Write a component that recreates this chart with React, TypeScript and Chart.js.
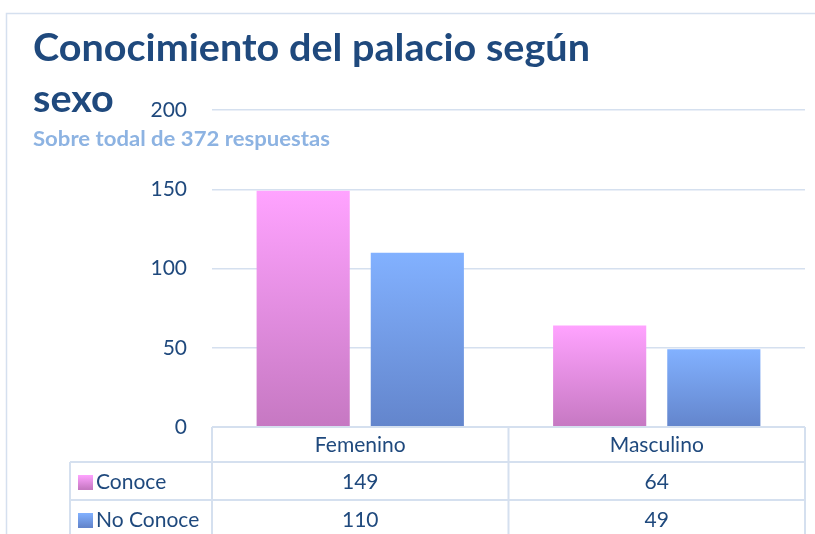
import { useEffect, useRef } from 'react';
import { Chart, registerables } from 'chart.js';

Chart.register(...registerables);

const categories = ['Femenino', 'Masculino'];
const seriesNames = ['Conoce', 'No Conoce'];
const conoce = [149, 64];
const noConoce = [110, 49];
const yMin = 0;
const yMax = 200;
const yStep = 50;
const titleLines = ['Conocimiento del palacio según', 'sexo'];
const subtitle = 'Sobre todal de 372 respuestas';

const TEXT = '#1f497d';
const GRID = '#d5e0ef';
const FONT = 'Lato, "Noto Sans", sans-serif';
const gradStops = [
  ['#ffa3ff', '#c678c2'],
  ['#82b1ff', '#6385cc'],
];

function barGradient(ctx: any, dsIndex: number) {
  const chart = ctx.chart;
  const y = chart.scales?.y;
  if (!y || ctx.raw == null) return gradStops[dsIndex][1];
  const top = y.getPixelForValue(ctx.raw);
  const base = y.getPixelForValue(0);
  if (!isFinite(top) || !isFinite(base) || top === base) return gradStops[dsIndex][1];
  const g = chart.ctx.createLinearGradient(0, top, 0, base);
  g.addColorStop(0, gradStops[dsIndex][0]);
  g.addColorStop(1, gradStops[dsIndex][1]);
  return g;
}

function fitText(ctx: any, text: string, x: number, y: number, width: number) {
  const w = ctx.measureText(text).width;
  ctx.save();
  ctx.translate(x, y);
  ctx.scale(width / w, 1);
  ctx.fillText(text, 0, 0);
  ctx.restore();
}

const overlay = {
  id: 'overlay',
  afterDraw(chart: any) {
    const { ctx, chartArea, scales } = chart;
    const xs = scales.x;
    const ys = scales.y;
    ctx.save();
    // outer frame
    ctx.strokeStyle = GRID;
    ctx.lineWidth = 1.5;
    ctx.strokeRect(6.5, 13.5, 1000, 1000);

    // title
    ctx.fillStyle = TEXT;
    ctx.textAlign = 'left';
    ctx.textBaseline = 'alphabetic';
    ctx.font = `bold 38px ${FONT}`;
    const w0 = ctx.measureText(titleLines[0]).width;
    const sx = 557 / w0;
    ctx.save();
    ctx.translate(33, 0);
    ctx.scale(sx, 1);
    ctx.fillText(titleLines[0], 0, 61);
    ctx.fillText(titleLines[1], 0, 112);
    ctx.restore();

    ctx.fillStyle = '#8db3e2';
    ctx.font = `bold 20px ${FONT}`;
    fitText(ctx, subtitle, 33, 146, 297);

    // data table
    const left = chartArea.left;
    const right = chartArea.right;
    const top = ys.getPixelForValue(0);
    const labelLeft = 70;
    const rowsY = [top, top + 35, top + 73, top + 111];
    const catW = (right - left) / categories.length;

    ctx.strokeStyle = GRID;
    ctx.lineWidth = 2;
    ctx.beginPath();
    ctx.moveTo(left, rowsY[0]);
    ctx.lineTo(right, rowsY[0]);
    for (let r = 1; r < rowsY.length; r++) {
      ctx.moveTo(labelLeft, rowsY[r]);
      ctx.lineTo(right, rowsY[r]);
    }
    ctx.moveTo(labelLeft, rowsY[1]);
    ctx.lineTo(labelLeft, rowsY[3]);
    for (let i = 0; i <= categories.length; i++) {
      const x = left + i * catW;
      ctx.moveTo(x, rowsY[0]);
      ctx.lineTo(x, rowsY[3]);
    }
    ctx.stroke();

    ctx.fillStyle = TEXT;
    ctx.font = `21px ${FONT}`;
    ctx.textAlign = 'center';
    ctx.textBaseline = 'middle';
    categories.forEach((c, i) => {
      const cx = xs.getPixelForValue(i);
      ctx.fillText(c, cx, (rowsY[0] + rowsY[1]) / 2 + 1);
    });
    const series = [conoce, noConoce];
    series.forEach((vals, s) => {
      const cy = (rowsY[s + 1] + rowsY[s + 2]) / 2 + 1;
      vals.forEach((v, i) => {
        ctx.fillStyle = TEXT;
        ctx.textAlign = 'center';
        ctx.fillText(String(v), xs.getPixelForValue(i), cy);
      });
      const g = ctx.createLinearGradient(0, cy - 7, 0, cy + 7);
      g.addColorStop(0, gradStops[s][0]);
      g.addColorStop(1, gradStops[s][1]);
      ctx.fillStyle = g;
      ctx.fillRect(78, cy - 7, 15, 15);
      ctx.fillStyle = TEXT;
      ctx.textAlign = 'left';
      ctx.fillText(seriesNames[s], 96, cy);
    });
    ctx.restore();
  },
};

export default function App() {
  const ref = useRef<HTMLCanvasElement>(null);
  useEffect(() => {
    if (!ref.current) return;
    const chart = new Chart(ref.current, {
      type: 'bar',
      data: {
        labels: categories,
        datasets: [
          {
            label: seriesNames[0],
            data: conoce,
            backgroundColor: (c: any) => barGradient(c, 0),
            categoryPercentage: 0.77,
            barPercentage: 0.816,
          },
          {
            label: seriesNames[1],
            data: noConoce,
            backgroundColor: (c: any) => barGradient(c, 1),
            categoryPercentage: 0.77,
            barPercentage: 0.816,
          },
        ],
      },
      options: {
        responsive: false,
        animation: false,
        layout: { padding: { top: 110, bottom: 107, right: 10, left: 0 } },
        plugins: {
          legend: { display: false },
          title: { display: false },
          tooltip: { enabled: false },
        },
        scales: {
          x: { display: false },
          y: {
            min: yMin,
            max: yMax,
            afterFit: (s: any) => {
              s.width = 212;
            },
            ticks: {
              stepSize: yStep,
              padding: 25,
              color: TEXT,
              font: { family: FONT, size: 21 },
            },
            grid: { color: GRID, lineWidth: 1.5, drawTicks: false },
            border: { display: false },
          },
        },
      },
      plugins: [overlay],
    });
    return () => chart.destroy();
  }, []);
  return (
    <div style={{ position: 'fixed', left: 0, top: 0, width: 815, height: 534, background: '#fff' }}>
      <canvas ref={ref} width={815} height={534} />
    </div>
  );
}
